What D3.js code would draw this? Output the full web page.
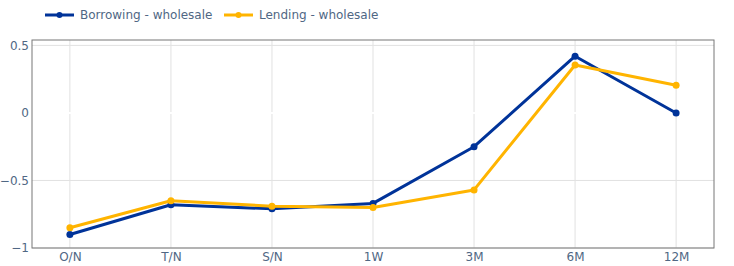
<!DOCTYPE html>
<html><head><meta charset="utf-8">
<script src="https://cdn.jsdelivr.net/npm/d3@7"></script>
<style>body{margin:0;background:#fff;font-family:"DejaVu Sans",sans-serif;}</style>
</head><body><svg id="c" width="734" height="266"></svg>
<script>
const categories = ["O/N","T/N","S/N","1W","3M","6M","12M"];
const borrowing = [-0.90,-0.68,-0.71,-0.67,-0.25,0.42,0.00];
const lending = [-0.85,-0.65,-0.69,-0.70,-0.57,0.355,0.205];
const yTicks = [-1,-0.5,0,0.5];
const seriesNames = ["Borrowing - wholesale","Lending - wholesale"];
const colors = ["#003399","#ffb400"];

const svg = d3.select("#c");
const L=32,R=714,T=40,B=248;
const x = d3.scalePoint().domain(categories).range([L,R]).padding(0.375);
const y = d3.scaleLinear().domain([-1.0,0.54]).range([B,T]);
const txt="#506784";
const font="'DejaVu Sans',Verdana,sans-serif";
const fs="12px";

// grid
svg.append("g").selectAll("line").data(categories).join("line")
 .attr("x1",d=>x(d)).attr("x2",d=>x(d)).attr("y1",T).attr("y2",B)
 .attr("stroke","#e1e1e1").attr("stroke-width",1);
svg.append("g").selectAll("line").data(yTicks.filter(v=>v!==0)).join("line")
 .attr("x1",L).attr("x2",R).attr("y1",d=>y(d)).attr("y2",d=>y(d))
 .attr("stroke","#e1e1e1").attr("stroke-width",1);
svg.append("line").attr("x1",L).attr("x2",R).attr("y1",y(0)).attr("y2",y(0))
 .attr("stroke","#fff").attr("stroke-width",2);

// axes
const yAxis = d3.axisLeft(y).tickValues(yTicks).tickSize(0).tickPadding(3)
 .tickFormat(d=>d===0?"0":String(d).replace("-","\u2212"));
const gy = svg.append("g").attr("transform",`translate(${L},0)`).call(yAxis);
gy.select(".domain").remove();
gy.selectAll("text").attr("fill",txt).style("font-size",fs).style("font-family",font);
const xAxis = d3.axisBottom(x).tickSize(0).tickPadding(4);
const gx = svg.append("g").attr("transform",`translate(0,${B})`).call(xAxis);
gx.select(".domain").remove();
gx.selectAll("text").attr("fill",txt).style("font-size",fs).style("font-family",font);

// frame
svg.append("rect").attr("x",L).attr("y",T).attr("width",R-L).attr("height",B-T)
 .attr("fill","none").attr("stroke","#777").attr("stroke-width",1);

// lines
const data=[borrowing,lending];
const line=d3.line().x((d,i)=>x(categories[i])).y(d=>y(d));
data.forEach((s,k)=>{
 svg.append("path").datum(s).attr("d",line).attr("fill","none")
  .attr("stroke",colors[k]).attr("stroke-width",3).attr("stroke-linejoin","round");
 svg.append("g").selectAll("circle").data(s).join("circle")
  .attr("cx",(d,i)=>x(categories[i])).attr("cy",d=>y(d)).attr("r",3.5).attr("fill",colors[k]);
});

// legend
const lx=[45,224];
seriesNames.forEach((n,k)=>{
 const g=svg.append("g").attr("transform",`translate(${lx[k]},15)`);
 g.append("line").attr("x1",0).attr("x2",29).attr("stroke",colors[k]).attr("stroke-width",3);
 g.append("circle").attr("cx",14.5).attr("r",3).attr("fill",colors[k]);
 g.append("text").attr("x",35).attr("y",4).text(n).attr("fill",txt)
  .style("font-size",fs).style("font-family",font);
});
</script></body></html>
